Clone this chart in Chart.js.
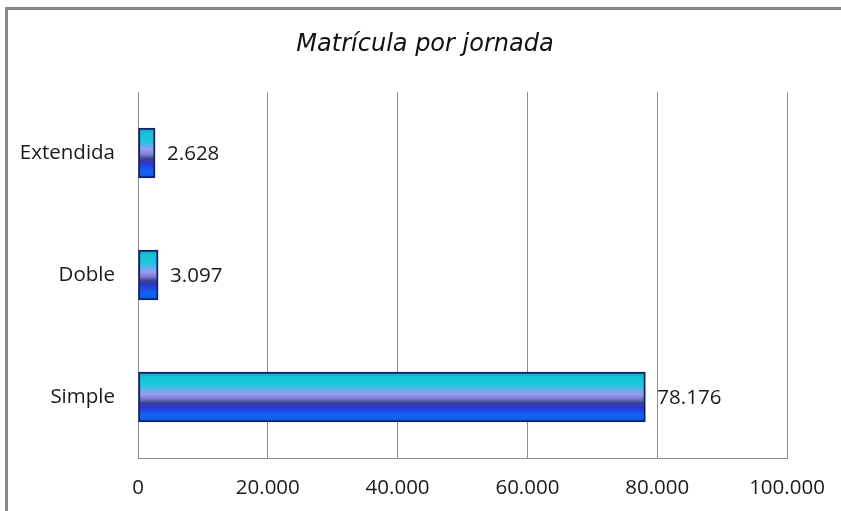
<!DOCTYPE html>
<html>
<head>
<meta charset="utf-8">
<script src="https://cdn.jsdelivr.net/npm/chart.js@4/dist/chart.umd.min.js"></script>
<style>
    html, body { margin: 0; padding: 0; background: #fff; overflow: hidden; }
    #wrap { position: relative; width: 841px; height: 511px; }
    #frame { position: absolute; left: 5px; top: 7px; width: 900px; height: 600px; border: 3px solid #8a8a8a; }
    #chart { position: absolute; left: 0; top: 0; }
</style>
</head>
<body>
<div id="wrap">
    <div id="frame"></div>
    <canvas id="chart" width="841" height="511"></canvas>
</div>
<script>
// ==================== Data ====================
const title = 'Matrícula por jornada';
const categories = ['Extendida', 'Doble', 'Simple'];
const matricula = [2628, 3097, 78176];
const xTicks = [0, 20000, 40000, 60000, 80000, 100000];

// ==================== Helpers ====================
function fmt(n) {
    return String(n).replace(/\B(?=(\d{3})+(?!\d))/g, '.');
}

function barGradient(ctx) {
    const chart = ctx.chart;
    if (!chart.chartArea || !chart.scales.y) return '#10c8d4';
    const y = chart.scales.y.getPixelForValue(ctx.dataIndex);
    const g = chart.ctx.createLinearGradient(0, y - 25, 0, y + 25);
    g.addColorStop(0.00, '#1a9cc4');
    g.addColorStop(0.10, '#12c4d2');
    g.addColorStop(0.26, '#1cc8dc');
    g.addColorStop(0.44, '#9a9cf2');
    g.addColorStop(0.53, '#7c7cd0');
    g.addColorStop(0.62, '#3a408c');
    g.addColorStop(0.71, '#2a36d8');
    g.addColorStop(0.86, '#1064f2');
    g.addColorStop(1.00, '#1058e4');
    return g;
}

// title drawn over the full canvas width, value labels right of bars
const annotate = {
    id: 'annotate',
    afterDatasetsDraw(chart) {
        const c = chart.ctx;
        const meta = chart.getDatasetMeta(0);
        c.save();
        c.font = 'italic 24px "DejaVu Sans", sans-serif';
        c.fillStyle = '#111';
        c.textAlign = 'center';
        c.textBaseline = 'middle';
        c.fillText(title, 425, 45);

        c.font = '20.5px "Open Sans", sans-serif';
        c.fillStyle = '#1a1a1a';
        c.textAlign = 'left';
        meta.data.forEach((bar, i) => {
            c.fillText(fmt(matricula[i]), bar.x + 12, bar.y + 1);
        });
        c.restore();
    }
};

// ==================== Chart ====================
new Chart(document.getElementById('chart').getContext('2d'), {
    type: 'bar',
    data: {
        labels: categories,
        datasets: [{
            data: matricula,
            backgroundColor: barGradient,
            borderColor: '#10236a',
            borderWidth: 2,
            borderSkipped: false,
            barThickness: 50
        }]
    },
    options: {
        indexAxis: 'y',
        responsive: false,
        animation: false,
        layout: { padding: { left: 0, right: 54, top: 92, bottom: 0 } },
        plugins: {
            legend: { display: false },
            tooltip: { enabled: false },
            title: { display: false }
        },
        scales: {
            x: {
                min: 0, max: 100000,
                afterBuildTicks: s => { s.ticks = xTicks.map(v => ({ value: v })); },
                afterFit: s => { s.height = 53; s.paddingLeft = 0; s.paddingRight = 0; },
                ticks: {
                    color: '#1a1a1a',
                    font: { family: '"Open Sans", sans-serif', size: 20.5 },
                    padding: 18,
                    callback: v => fmt(v)
                },
                grid: { color: '#8c8c8c', lineWidth: 1, drawTicks: false },
                border: { color: '#8c8c8c', width: 1 }
            },
            y: {
                afterFit: s => { s.width = 138; },
                ticks: {
                    color: '#1a1a1a',
                    font: { family: '"Open Sans", sans-serif', size: 20.5 },
                    padding: 23
                },
                grid: { display: false, drawTicks: false },
                border: { color: '#8c8c8c', width: 1 }
            }
        }
    },
    plugins: [annotate]
});
</script>
</body>
</html>
